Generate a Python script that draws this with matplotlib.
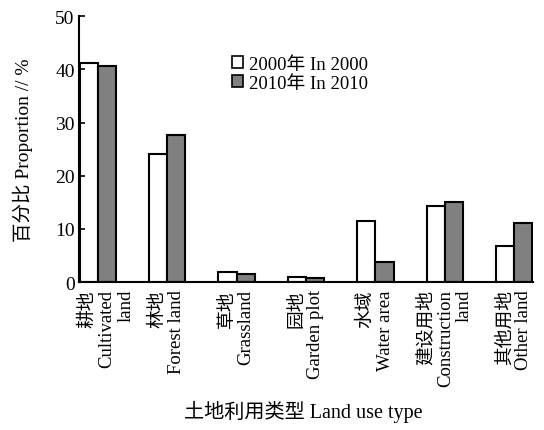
import numpy as np
import matplotlib
matplotlib.use("Agg")
from matplotlib import pyplot as plt
from matplotlib.patches import Patch
from matplotlib.transforms import ScaledTranslation

plt.rcParams['font.family'] = ['Liberation Serif', 'Noto Sans CJK SC']

categories = ["耕地\nCultivated\nland", "林地\nForest land", "草地\nGrassland",
              "园地\nGarden plot", "水域\nWater area", "建设用地\nConstruction\nland",
              "其他用地\nOther land"]
values_2000 = [41.3, 24.1, 1.9, 0.9, 11.5, 14.3, 6.8]
values_2010 = [40.7, 27.6, 1.6, 0.8, 3.8, 15.1, 11.1]
legend_labels = ["2000年 In 2000", "2010年 In 2010"]

fig = plt.figure(figsize=(5.44, 4.31), dpi=100)
ax = fig.add_axes([0.145, 0.343, 0.835, 0.617])

x = np.arange(len(categories))
w = 0.26
ax.bar(x - w/2, values_2000, width=w, color='white', edgecolor='black', linewidth=1.5)
ax.bar(x + w/2, values_2010, width=w, color='#808080', edgecolor='black', linewidth=1.5)

ax.set_xlim(-w - 0.01, len(categories) - 1 + w + 0.01)
ax.set_ylim(0, 50)
ax.set_yticks(np.arange(0, 51, 10))
ax.tick_params(axis='y', direction='in', length=4, width=1.2, labelsize=14, pad=3)
ax.tick_params(axis='x', length=0, pad=5)
ax.set_xticks(x)
labels = ax.set_xticklabels(categories, rotation=90, va='top', ha='center',
                            multialignment='right', fontsize=13.5, linespacing=1.15)
# first label sits a little right of its bars, clear of the "0"
labels[0].set_transform(labels[0].get_transform() +
                        ScaledTranslation(0.09, 0, fig.dpi_scale_trans))

for side in ['top', 'right']:
    ax.spines[side].set_visible(False)
for side in ['left', 'bottom']:
    ax.spines[side].set_linewidth(1.5)

ax.set_ylabel("百分比 Proportion // %", fontsize=14, labelpad=16)
fig.text(0.557, 0.044, "土地利用类型 Land use type", ha='center', va='center', fontsize=14.5)

handles = [Patch(facecolor='white', edgecolor='black', linewidth=1.2),
           Patch(facecolor='#808080', edgecolor='black', linewidth=1.2)]
ax.legend(handles, legend_labels, loc='upper left', bbox_to_anchor=(0.32, 0.88),
          frameon=False, fontsize=13.5, handlelength=0.6, handleheight=0.6,
          handletextpad=0.3, labelspacing=0.12, borderaxespad=0)

fig.savefig("out.png", dpi=100)
